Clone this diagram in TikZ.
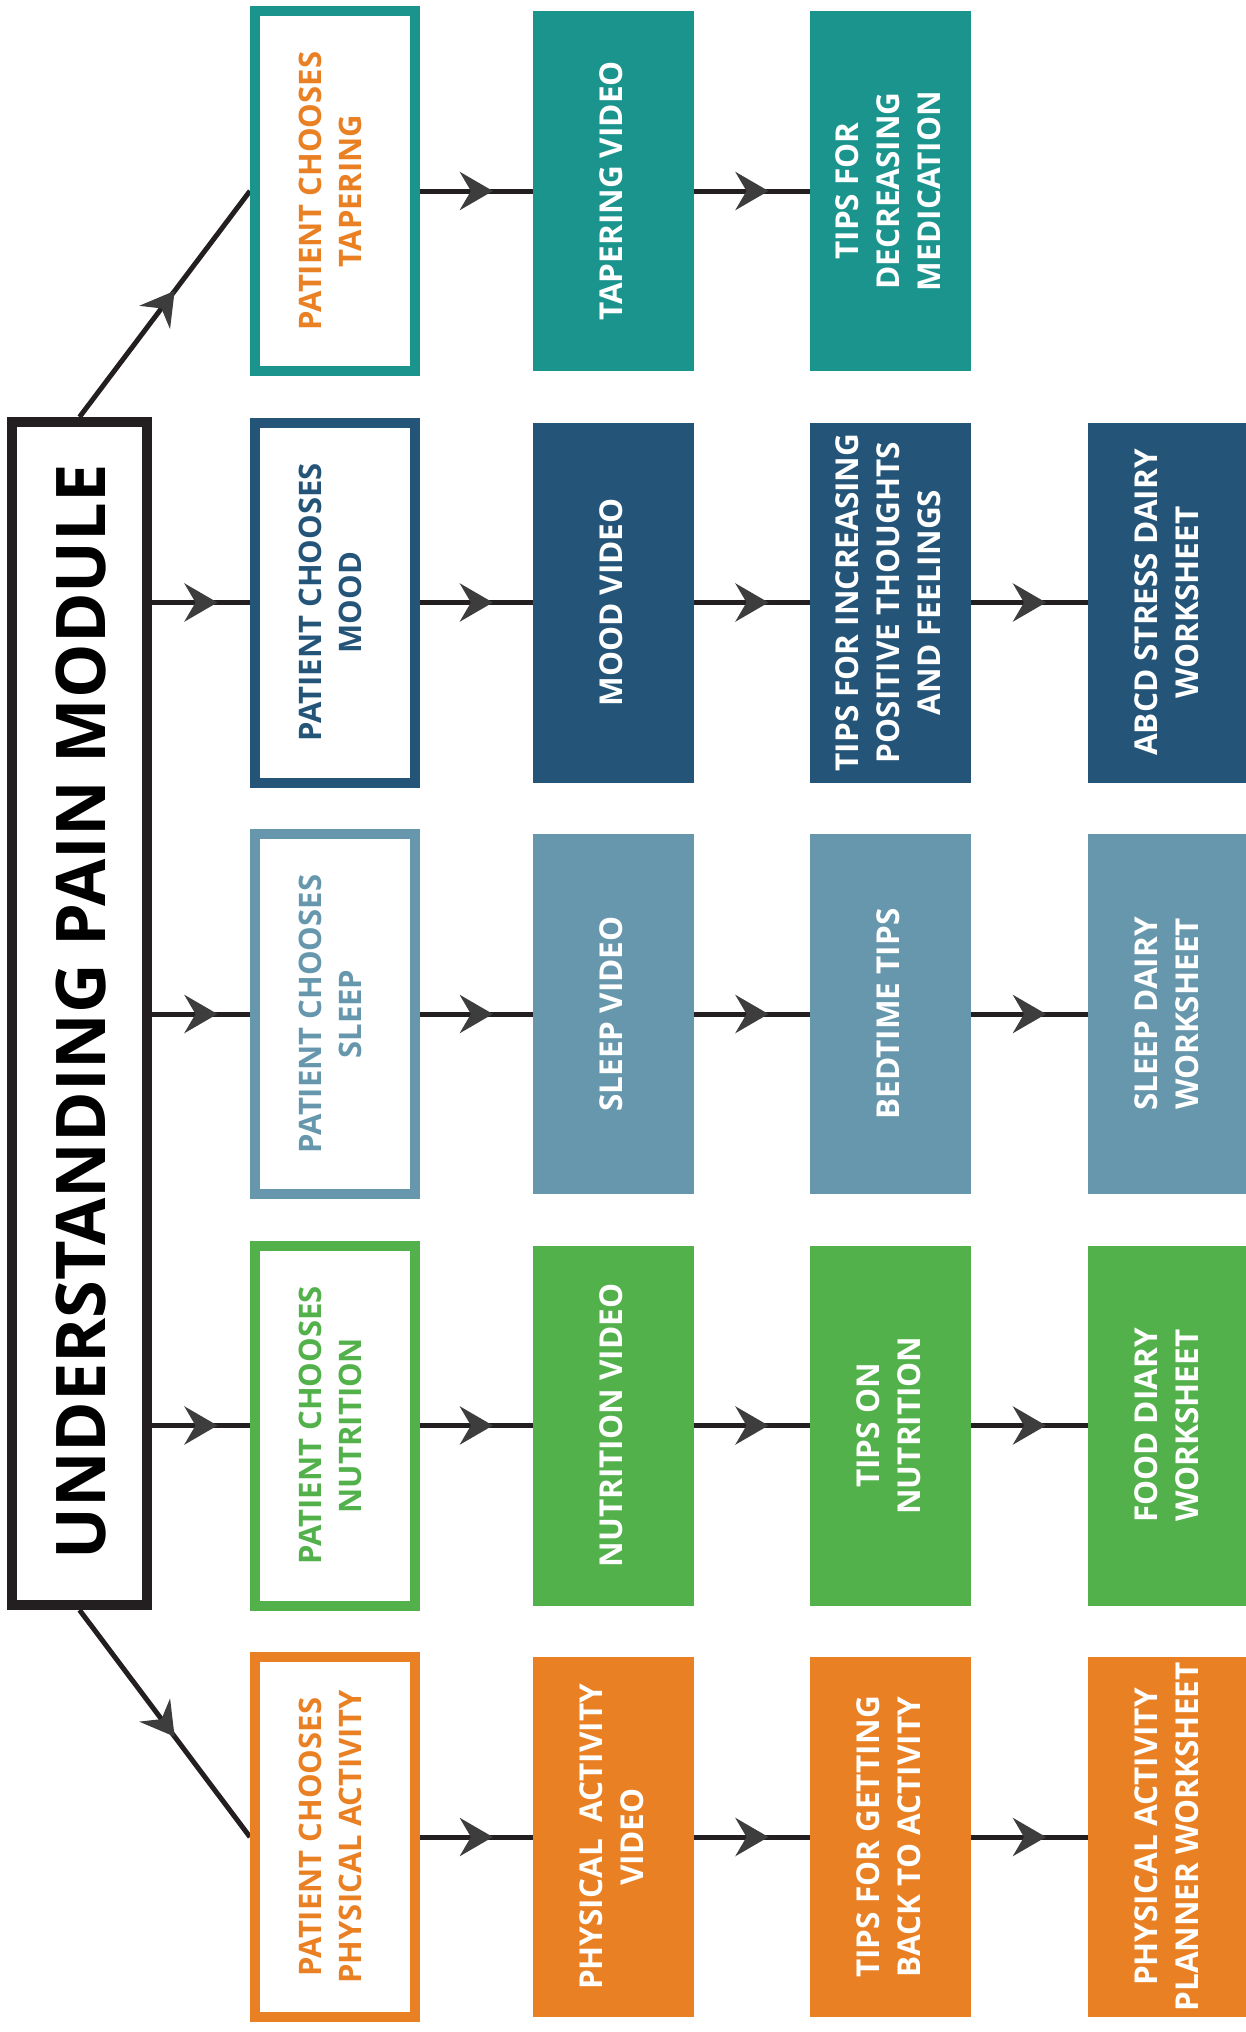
\documentclass[tikz,border=0pt]{standalone}
\usepackage{fontspec}
\setmainfont{Open Sans}
\usetikzlibrary{arrows.meta,decorations.markings}
\pgfdeclarelayer{bg}
\pgfsetlayers{bg,main}
\definecolor{teal1}{HTML}{1B948D}
\definecolor{navy1}{HTML}{245579}
\definecolor{steel1}{HTML}{6697AD}
\definecolor{green1}{HTML}{52B14A}
\definecolor{orange1}{HTML}{EA8024}
\definecolor{ink}{HTML}{231F20}
\definecolor{arrowgray}{HTML}{3D3D3D}
\begin{document}
\begin{tikzpicture}[x=1pt,y=-1pt,
  outbox/.style={draw=#1, line width=10pt, fill=white, minimum width=160pt, minimum height=360pt, inner sep=0pt},
  fillbox/.style={fill=#1, minimum width=161pt, minimum height=360pt, inner sep=0pt},
  outtext/.style={rotate=90, align=center, text=#1, font=\bfseries\fontsize{31}{40}\selectfont, inner sep=0pt},
  filltext/.style={rotate=90, align=center, text=white, font=\bfseries\fontsize{31.5}{41}\selectfont, inner sep=0pt},
  conn/.style={draw=ink, line width=5pt, postaction={decorate},
    decoration={markings, mark=at position 0.5 with {\arrow[arrowgray, xshift=16.5pt]{Stealth[length=33pt,width=38pt,inset=11pt]}}}},
]
\useasboundingbox (0,0) rectangle (1246,2032);

% main box
\node[draw=ink, line width=10pt, fill=white, minimum width=135pt, minimum height=1183pt, inner sep=0pt] (main) at (79.5,1013.5) {};
\node[rotate=90, font=\bfseries\fontsize{68.5}{72}\selectfont, text=black, inner sep=0pt] (title) at (81,1012) {UNDERSTANDING PAIN MODULE};

% row 1: tapering
\node[outbox=teal1] (tapO) at (335,191) {};
\node[outtext=orange1] (tapOt) at ([xshift=-5pt]tapO) {PATIENT CHOOSES\\TAPERING};
\node[fillbox=teal1] (tapA) at (613.5,191) {};
\node[filltext] (tapAt) at ([xshift=-2pt]tapA) {TAPERING VIDEO};
\node[fillbox=teal1] (tapB) at (890.5,191) {};
\node[filltext] (tapBt) at ([xshift=-2pt]tapB) {TIPS FOR\\DECREASING\\MEDICATION};

% row 2: mood
\node[outbox=navy1] (moodO) at (335,602.5) {};
\node[outtext=navy1] (moodOt) at ([xshift=-5pt]moodO) {PATIENT CHOOSES\\MOOD};
\node[fillbox=navy1] (moodA) at (613.5,602.5) {};
\node[filltext] (moodAt) at ([xshift=-2pt]moodA) {MOOD VIDEO};
\node[fillbox=navy1] (moodB) at (890.5,602.5) {};
\node[filltext] (moodBt) at ([xshift=-2pt]moodB) {TIPS FOR INCREASING\\POSITIVE THOUGHTS\\AND FEELINGS};
\node[fillbox=navy1] (moodC) at (1168.5,602.5) {};
\node[filltext] (moodCt) at ([xshift=-2pt]moodC) {ABCD STRESS DAIRY\\WORKSHEET};

% row 3: sleep
\node[outbox=steel1] (slO) at (335,1014) {};
\node[outtext=steel1] (slOt) at ([xshift=-5pt]slO) {PATIENT CHOOSES\\SLEEP};
\node[fillbox=steel1] (slA) at (613.5,1014) {};
\node[filltext] (slAt) at ([xshift=-2pt]slA) {SLEEP VIDEO};
\node[fillbox=steel1] (slB) at (890.5,1014) {};
\node[filltext] (slBt) at ([xshift=-2pt]slB) {BEDTIME TIPS};
\node[fillbox=steel1] (slC) at (1168.5,1014) {};
\node[filltext] (slCt) at ([xshift=-2pt]slC) {SLEEP DAIRY\\WORKSHEET};

% row 4: nutrition
\node[outbox=green1] (nuO) at (335,1425.5) {};
\node[outtext=green1] (nuOt) at ([xshift=-5pt]nuO) {PATIENT CHOOSES\\NUTRITION};
\node[fillbox=green1] (nuA) at (613.5,1425.5) {};
\node[filltext] (nuAt) at ([xshift=-2pt]nuA) {NUTRITION VIDEO};
\node[fillbox=green1] (nuB) at (890.5,1425.5) {};
\node[filltext] (nuBt) at ([xshift=-2pt]nuB) {TIPS ON\\NUTRITION};
\node[fillbox=green1] (nuC) at (1168.5,1425.5) {};
\node[filltext] (nuCt) at ([xshift=-2pt]nuC) {FOOD DIARY\\WORKSHEET};

% row 5: physical activity
\node[outbox=orange1] (phO) at (335,1837) {};
\node[outtext=orange1] (phOt) at ([xshift=-5pt]phO) {PATIENT CHOOSES\\PHYSICAL ACTIVITY};
\node[fillbox=orange1] (phA) at (613.5,1837) {};
\node[filltext] (phAt) at ([xshift=-2pt]phA) {PHYSICAL~~ACTIVITY\\VIDEO};
\node[fillbox=orange1] (phB) at (890.5,1837) {};
\node[filltext] (phBt) at ([xshift=-2pt]phB) {TIPS FOR GETTING\\BACK TO ACTIVITY};
\node[fillbox=orange1] (phC) at (1168.5,1837) {};
\node[filltext] (phCt) at ([xshift=-2pt]phC) {PHYSICAL ACTIVITY\\PLANNER WORKSHEET};

\begin{pgfonlayer}{bg}
\draw[conn] (main.north) -- (tapO.west);
\draw[conn] (main.east |- moodO.west) -- (moodO.west);
\draw[conn] (main.east |- slO.west) -- (slO.west);
\draw[conn] (main.east |- nuO.west) -- (nuO.west);
\draw[conn] (main.south) -- (phO.west);

\draw[conn] (tapO.east) -- (tapA.west);
\draw[conn] (tapA.east) -- (tapB.west);

\draw[conn] (moodO.east) -- (moodA.west);
\draw[conn] (moodA.east) -- (moodB.west);
\draw[conn] (moodB.east) -- (moodC.west);

\draw[conn] (slO.east) -- (slA.west);
\draw[conn] (slA.east) -- (slB.west);
\draw[conn] (slB.east) -- (slC.west);

\draw[conn] (nuO.east) -- (nuA.west);
\draw[conn] (nuA.east) -- (nuB.west);
\draw[conn] (nuB.east) -- (nuC.west);

\draw[conn] (phO.east) -- (phA.west);
\draw[conn] (phA.east) -- (phB.west);
\draw[conn] (phB.east) -- (phC.west);
\end{pgfonlayer}
\end{tikzpicture}
\end{document}
